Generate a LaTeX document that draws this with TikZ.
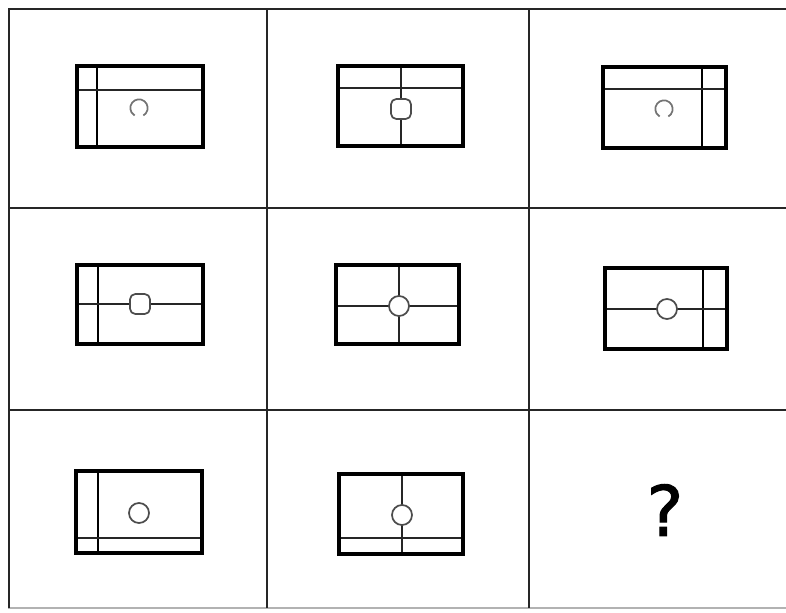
\documentclass[tikz,border=0pt]{standalone}
\usepackage{fontspec}
\usepackage{tikz}
\usetikzlibrary{positioning}
\newfontfamily\askfont[FakeBold=1.5]{DejaVu Sans}
\tikzset{
	gridline/.style={line width=2pt, black!85},
	panel/.style   ={line width=2.4pt, black},
	sideline/.style={line width=2.2pt, black},
	midline/.style ={line width=1.5pt, black!85},
	% marks in the middle of a panel
	ring/.style    ={circle, draw=black!70, line width=1.3pt, fill=white, minimum size=15pt, inner sep=0pt},
	roundbox/.style={rectangle, rounded corners=4pt, draw=black!70, line width=1.3pt, fill=white, minimum size=15pt, inner sep=0pt},
	openring/.style={draw=black!55, line width=1.3pt},
}
\begin{document}
\begin{tikzpicture}[x=0.75pt, y=0.75pt]
	\useasboundingbox (0,0) rectangle (786,612);
	% grid
	\draw[gridline] (8,603) -- (786,603);
	\draw[gridline] (8,404) -- (786,404);
	\draw[gridline] (8,202) -- (786,202);
	\draw[line width=1pt, black!30] (8,4) -- (786,4);
	\draw[gridline] (9,603) -- (9,4);
	\draw[gridline] (267,603) -- (267,4);
	\draw[gridline] (529,603) -- (529,4);
	% row 1
	\draw[sideline] (97,546) -- (97,465);
	\draw[midline] (77,522) -- (203,522);
	\draw[panel] (77,465) rectangle (203,546);
	\draw[openring] (139,504) ++(-60:6.5pt) arc[start angle=-60, end angle=240, radius=6.5pt];
	\draw[midline] (338,524) -- (463,524);
	\draw[midline] (401,546) -- (401,466);
	\draw[panel] (338,466) rectangle (463,546);
	\node[roundbox] (m2) at (401,503) {};
	\draw[sideline] (702,545) -- (702,464);
	\draw[midline] (603,523) -- (726,523);
	\draw[panel] (603,464) rectangle (726,545);
	\draw[openring] (664,503) ++(-60:6.5pt) arc[start angle=-60, end angle=240, radius=6.5pt];
	% row 2
	\draw[sideline] (98,347) -- (98,268);
	\draw[midline] (77,308) -- (203,308);
	\draw[panel] (77,268) rectangle (203,347);
	\node[roundbox] (m4) at (140,308) {};
	\draw[midline] (399,347) -- (399,268);
	\draw[midline] (336,306) -- (459,306);
	\draw[panel] (336,268) rectangle (459,347);
	\node[ring] (m5) at (399,306) {};
	\draw[sideline] (703,344) -- (703,263);
	\draw[midline] (605,303) -- (727,303);
	\draw[panel] (605,263) rectangle (727,344);
	\node[ring] (m6) at (667,303) {};
	% row 3
	\draw[sideline] (98,141) -- (98,59);
	\draw[midline] (76,74) -- (202,74);
	\draw[panel] (76,59) rectangle (202,141);
	\node[ring] (m7) at (139,99) {};
	\draw[midline] (402,138) -- (402,58);
	\draw[midline] (339,74) -- (463,74);
	\draw[panel] (339,58) rectangle (463,138);
	\node[ring] (m8) at (402,97) {};
	\node[font=\askfont\fontsize{52}{52}\selectfont] (ask) at (665,102) {?};
\end{tikzpicture}
\end{document}
